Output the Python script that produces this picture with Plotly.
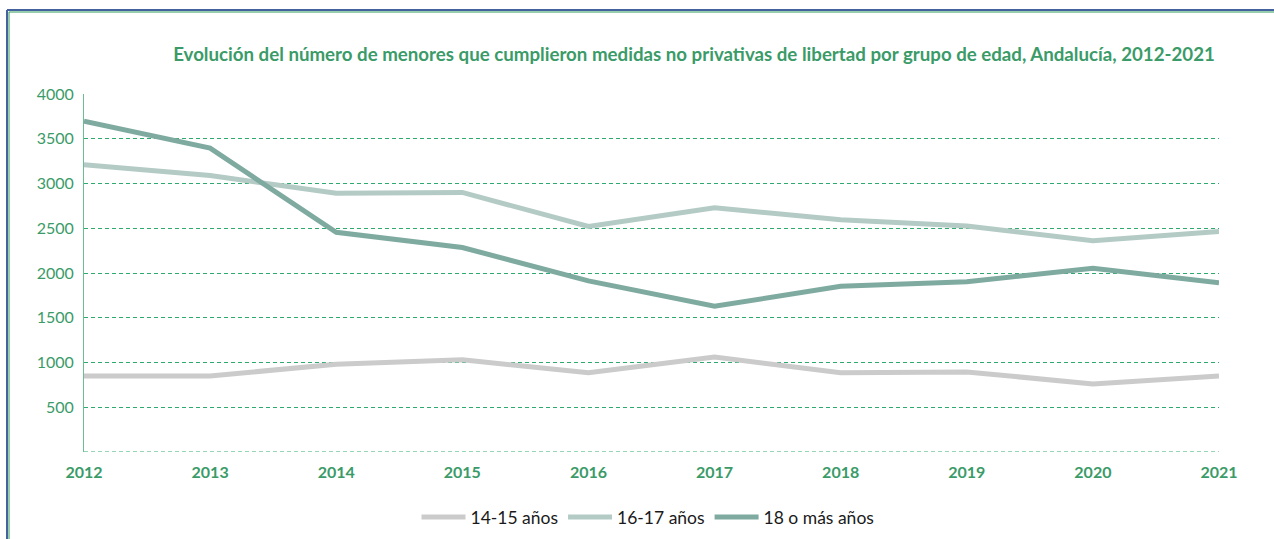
import plotly.graph_objects as go

# Años y series por grupo de edad
years = [2012, 2013, 2014, 2015, 2016, 2017, 2018, 2019, 2020, 2021]
edad_14_15 = [850, 850, 980, 1030, 885, 1060, 885, 895, 760, 850]
edad_16_17 = [3210, 3090, 2890, 2900, 2520, 2730, 2595, 2525, 2360, 2465]
edad_18_mas = [3695, 3395, 2455, 2285, 1912, 1628, 1852, 1902, 2052, 1890]

series_names = ["14-15 años", "16-17 años", "18 o más años"]
series_colors = ["#CBCBCB", "#B4CBC5", "#7FAAA0"]
y_ticks = [500, 1000, 1500, 2000, 2500, 3000, 3500, 4000]

W, H = 1274, 539
L, R, T, B = 84, 55, 94, 87
green = "#3A9B68"
grid_green = "#2FAA6E"

fig = go.Figure()
for name, vals, col in zip(series_names, [edad_14_15, edad_16_17, edad_18_mas], series_colors):
    fig.add_trace(go.Scatter(
        x=years, y=vals, name=name, mode="lines",
        line=dict(color=col, width=5),
    ))

# Coordenadas de papel a partir de píxeles
plot_w = W - L - R
plot_h = H - T - B
def px(xp):
    return (xp - L) / plot_w
def py(yp):
    return (H - B - yp) / plot_h

shapes = [
    # Marco exterior azul y línea interior verde
    dict(type="line", xref="paper", yref="paper", x0=px(7), x1=px(W + 5), y0=py(10), y1=py(10),
         line=dict(color="#43629E", width=2)),
    dict(type="line", xref="paper", yref="paper", x0=px(7), x1=px(7), y0=py(10), y1=py(H + 5),
         line=dict(color="#43629E", width=2)),
    dict(type="line", xref="paper", yref="paper", x0=px(9), x1=px(W + 5), y0=py(12), y1=py(12),
         line=dict(color="#2E9A5A", width=1)),
    dict(type="line", xref="paper", yref="paper", x0=px(9), x1=px(9), y0=py(12), y1=py(H + 5),
         line=dict(color="#2E9A5A", width=1)),
    # Línea base discontinua en cero
    dict(type="line", xref="paper", yref="y", x0=0, x1=1, y0=0, y1=0,
         line=dict(color=grid_green, width=1, dash="4px,3px"), layer="below"),
]

fig.update_layout(
    width=W, height=H,
    margin=dict(l=L, r=R, t=T, b=B),
    paper_bgcolor="white", plot_bgcolor="white",
    font=dict(family="Lato, sans-serif", color=green),
    title=dict(
        text="<b>Evolución del número de menores que cumplieron medidas no privativas de libertad por grupo de edad, Andalucía, 2012-2021</b>",
        x=694 / W, xanchor="center", xref="container",
        y=1 - 54 / H, yanchor="middle", yref="container",
        font=dict(size=18.7, color=green, family="Lato, sans-serif"),
    ),
    xaxis=dict(
        range=[2012, 2021], tickmode="array", tickvals=years,
        ticktext=[f"<b>{y}</b>" for y in years],
        showgrid=False, zeroline=False, showline=False,
        tickfont=dict(size=16, color=green), ticks="", ticklabelstandoff=9,
    ),
    yaxis=dict(
        range=[0, 4000], tickmode="array", tickvals=y_ticks,
        ticktext=[str(v) for v in y_ticks],
        showgrid=True, gridcolor=grid_green, griddash="4px,3px", gridwidth=1,
        zeroline=False, showline=True, linecolor="#6CBE90", linewidth=1,
        tickfont=dict(size=16, color=green), ticks="", ticklabelstandoff=6,
    ),
    legend=dict(
        orientation="h", x=648 / W, xref="container", xanchor="center",
        y=1 - 517 / H, yref="container", yanchor="middle",
        font=dict(size=17.5, color="#1A1A1A"), itemwidth=44,
        tracegroupgap=0, itemclick=False,
    ),
    shapes=shapes,
    showlegend=True,
)

fig.write_html("out.html")
